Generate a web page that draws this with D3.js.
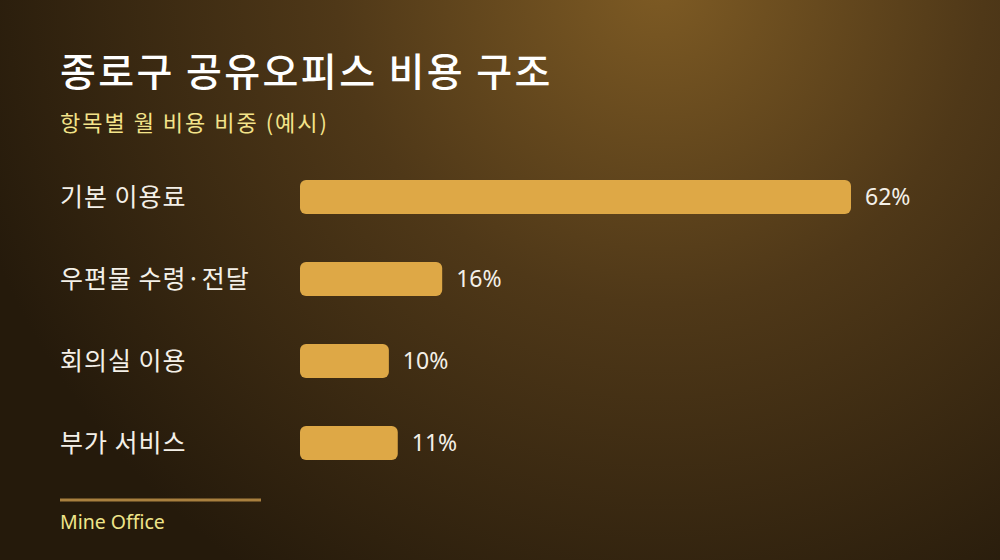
<!DOCTYPE html>
<html>
<head>
<meta charset="utf-8">
<script src="https://cdn.jsdelivr.net/npm/d3@7"></script>
<style>
  html, body { margin: 0; padding: 0; background: #2a1d0c; }
  svg { display: block; font-family: "Noto Sans CJK KR", "Noto Sans", sans-serif; }
</style>
</head>
<body>
<svg id="chart" width="1000" height="560"></svg>
<script>
// 항목별 월 비용 비중
const categories = ["기본 이용료", "우편물 수령·전달", "회의실 이용", "부가 서비스"];
const shares = [62, 16, 10, 11];
const valueLabels = ["62%", "16%", "10%", "11%"];

const title = "종로구 공유오피스 비용 구조";
const subtitle = "항목별 월 비용 비중 (예시)";
const source = "Mine Office";

const svg = d3.select("#chart");
const W = 1000, H = 560;

// background glow
const defs = svg.append("defs");
const grad = defs.append("radialGradient")
  .attr("id", "bg")
  .attr("gradientUnits", "userSpaceOnUse")
  .attr("cx", 660).attr("cy", -20).attr("r", 720);
grad.append("stop").attr("offset", "0").attr("stop-color", "#7e5b24");
grad.append("stop").attr("offset", "0.45").attr("stop-color", "#4f3818");
grad.append("stop").attr("offset", "1").attr("stop-color", "#251a0b");

svg.append("rect").attr("width", W).attr("height", H).attr("fill", "url(#bg)");

svg.append("text")
  .attr("x", 60).attr("y", 86)
  .attr("fill", "#ffffff")
  .attr("font-size", 39)
  .attr("font-weight", 500)
  .attr("letter-spacing", 2.4)
  .text(title);

svg.append("text")
  .attr("x", 60).attr("y", 131)
  .attr("fill", "#f3e38a")
  .attr("font-size", 22)
  .attr("letter-spacing", 2)
  .text(subtitle);

const x = d3.scaleLinear()
  .domain([0, d3.max(shares)])
  .range([300, 851]);

const y = d3.scaleBand()
  .domain(categories)
  .range([180, 460])
  .paddingInner(0.585)
  .paddingOuter(0);

const rows = svg.append("g").selectAll("g")
  .data(categories)
  .join("g");

rows.append("rect")
  .attr("x", x(0))
  .attr("y", d => y(d))
  .attr("width", (d, i) => x(shares[i]) - x(0))
  .attr("height", y.bandwidth())
  .attr("rx", 6)
  .attr("fill", "#dea846");

rows.append("text")
  .attr("x", 60)
  .attr("y", d => y(d) + y.bandwidth() / 2)
  .attr("dy", "0.35em")
  .attr("fill", "#f4f0e8")
  .attr("font-size", 25)
  .attr("letter-spacing", 1)
  .text(d => d);

rows.append("text")
  .attr("x", (d, i) => x(shares[i]) + 14)
  .attr("y", d => y(d) + y.bandwidth() / 2)
  .attr("dy", "0.36em")
  .attr("fill", "#f4f0e8")
  .attr("font-family", "'Noto Sans', sans-serif")
  .attr("font-size", 23)
  .text((d, i) => valueLabels[i]);

svg.append("line")
  .attr("x1", 60).attr("x2", 261)
  .attr("y1", 500).attr("y2", 500)
  .attr("stroke", "#a9803f")
  .attr("stroke-width", 3);

svg.append("text")
  .attr("x", 60).attr("y", 529)
  .attr("fill", "#efe58a")
  .attr("font-family", "'Noto Sans', sans-serif")
  .attr("font-size", 19.5)
  .text(source);
</script>
</body>
</html>
